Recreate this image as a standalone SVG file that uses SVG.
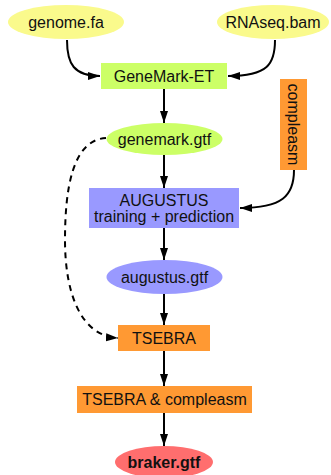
<svg xmlns="http://www.w3.org/2000/svg" width="331" height="475" viewBox="0 0 331 475">
  <style>
    text { font-family: "Liberation Sans", Arial, sans-serif; font-size: 16px; fill: #111; text-anchor: middle; }
    .edge { fill: none; stroke: #000; stroke-width: 2; }
    .dashed { stroke-dasharray: 6 5; }
    .yellow { fill: #fafa8c; }
    .green { fill: #ccff66; }
    .blue { fill: #9999ff; }
    .orange { fill: #ff9933; }
    .red { fill: #ff6e6e; }
  </style>
  <defs>
    <marker id="arrow" markerUnits="userSpaceOnUse" markerWidth="13" markerHeight="10" refX="12" refY="4" orient="auto">
      <path d="M0,0 L12,4 L0,8 z" fill="#000"/>
    </marker>
  </defs>
  <rect width="331" height="475" fill="#fff"/>

  <!-- connectors -->
  <g id="edges">
    <path class="edge" d="M67,40 C67,64 74,76 100,76" marker-end="url(#arrow)"/>
    <path class="edge" d="M275,40 C275,64 268,76 228,76" marker-end="url(#arrow)"/>
    <path class="edge" d="M164,89 L164,123" marker-end="url(#arrow)"/>
    <path class="edge" d="M164,155 L164,188" marker-end="url(#arrow)"/>
    <path class="edge" d="M294,170 C294,196 282,208 240,208" marker-end="url(#arrow)"/>
    <path class="edge" d="M164,228 L164,260" marker-end="url(#arrow)"/>
    <path class="edge" d="M164,294 L164,325" marker-end="url(#arrow)"/>
    <path class="edge" d="M164,351 L164,386" marker-end="url(#arrow)"/>
    <path class="edge" d="M164,413 L164,446" marker-end="url(#arrow)"/>
    <path class="edge dashed" d="M106,138 C72,140 65,190 65,240 C65,292 80,336 118,338" marker-end="url(#arrow)"/>
  </g>

  <g id="genome_fa">
    <ellipse class="yellow" cx="66" cy="22" rx="58" ry="17"/>
    <text x="66" y="28">genome.fa</text>
  </g>
  <g id="rnaseq_bam">
    <ellipse class="yellow" cx="273" cy="22" rx="56" ry="17"/>
    <text x="273" y="28">RNAseq.bam</text>
  </g>
  <g id="genemark_et">
    <rect class="green" x="101" y="63" width="126" height="26"/>
    <text x="164" y="82">GeneMark-ET</text>
  </g>
  <g id="compleasm">
    <rect class="orange" x="280" y="79" width="27" height="91"/>
    <text transform="translate(293.5,124.5) rotate(90)" x="0" y="5.5">compleasm</text>
  </g>
  <g id="genemark_gtf">
    <ellipse class="green" cx="164.5" cy="139" rx="58" ry="16"/>
    <text x="164.5" y="145">genemark.gtf</text>
  </g>
  <g id="augustus">
    <rect class="blue" x="89" y="188" width="150" height="40"/>
    <text x="164" y="206">AUGUSTUS</text>
    <text x="164" y="222">training + prediction</text>
  </g>
  <g id="augustus_gtf">
    <ellipse class="blue" cx="164.5" cy="277" rx="58" ry="17"/>
    <text x="164.5" y="283">augustus.gtf</text>
  </g>
  <g id="tsebra">
    <rect class="orange" x="118" y="325" width="92" height="26"/>
    <text x="164" y="344">TSEBRA</text>
  </g>
  <g id="tsebra_compleasm">
    <rect class="orange" x="77" y="386" width="175" height="27"/>
    <text x="164.5" y="405">TSEBRA &amp; compleasm</text>
  </g>
  <g id="braker_gtf">
    <ellipse class="red" cx="164" cy="462" rx="49" ry="16"/>
    <text x="164" y="468" font-weight="bold">braker.gtf</text>
  </g>
</svg>
